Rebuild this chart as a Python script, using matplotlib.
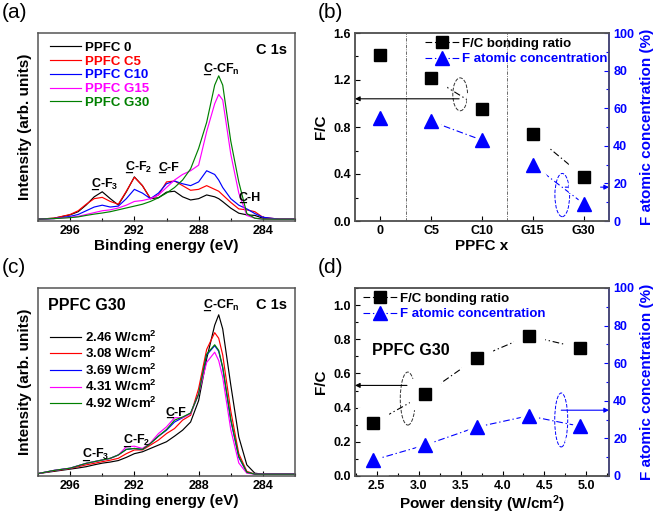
import matplotlib.pyplot as plt
from matplotlib.patches import Ellipse
from matplotlib.lines import Line2D
from matplotlib.ticker import MultipleLocator

plt.rcParams['font.family'] = ['Liberation Sans', 'DejaVu Sans']
plt.rcParams['font.weight'] = 'bold'
plt.rcParams['axes.labelweight'] = 'bold'
plt.rcParams['mathtext.fontset'] = 'custom'
plt.rcParams['mathtext.rm'] = 'Liberation Sans:bold'
plt.rcParams['mathtext.bf'] = 'Liberation Sans:bold'
plt.rcParams['mathtext.it'] = 'Liberation Sans:bold'
plt.rcParams['mathtext.default'] = 'bf'

# ---- (a) C 1s spectra vs. PPFC type ----
energy = [298, 297, 296, 295.5, 295, 294.5, 294, 293.5, 293, 292.5, 292, 291.5, 291, 290.5, 290,
          289.5, 289, 288.5, 288, 287.5, 287, 286.75, 286.5, 286, 285.5, 285, 284.5, 284, 283, 282]
ppfc_0 = [0, 0.5, 2.3, 4, 7.6, 12, 14.7, 11, 7.6, 14.7, 22.7, 18, 11, 11.5, 14.5,
          15, 12, 10.3, 11, 13, 12, 11, 9.4, 5.9, 3.2, 2.3, 2, 0.5, 0, 0]
ppfc_c5 = [0, 0.5, 2.5, 4.5, 8, 11, 11.7, 9.5, 8, 15, 22.5, 18, 11, 13, 20,
           20.5, 18, 15.5, 16, 18, 16, 15, 13, 9, 5.5, 5, 4, 1, 0, 0]
ppfc_c10 = [0, 0.3, 1.5, 2.5, 4.5, 6.5, 7.5, 6.5, 7, 11, 16, 14, 11, 14, 19,
            20.5, 19, 18, 20, 26, 24, 21, 17, 11, 7.5, 5.5, 3, 1, 0, 0]
ppfc_g15 = [0, 0.3, 1, 1.5, 2.5, 3.5, 4.5, 5, 6, 7.5, 9.5, 10, 11, 13, 17,
            21, 24, 26, 29, 47, 62, 67, 64, 35, 14, 2, 0.5, 0, 0, 0]
ppfc_g30 = [0, 0.3, 0.8, 1.2, 2, 2.7, 3.3, 4, 5, 6, 7, 8, 9.5, 11.5, 14,
            17, 21, 27, 38, 52, 72, 77, 72, 42, 20, 3, 0.5, 0, 0, 0]
names_a = ['PPFC 0', 'PPFC C5', 'PPFC C10', 'PPFC G15', 'PPFC G30']

# ---- (c) C 1s spectra of PPFC G30 vs. power density ----
p246 = [0.3, 1.5, 2.7, 3.3, 4, 5, 5.9, 6.5, 7.3, 9, 11, 12, 13.8, 15.6, 17.4,
        20.4, 23.6, 28, 39.5, 62, 80, 85.6, 78, 48, 20, 5, 0.5, 0, 0, 0]
p308 = [0.3, 1.8, 3, 4, 5, 5.8, 6.7, 7.5, 8.5, 11, 13, 13, 15.6, 18.3, 21.8,
        24.5, 29, 31.6, 46, 67, 76, 73, 64, 34, 11, 1.5, 0, 0, 0, 0]
p369 = [0.3, 2, 3.2, 4.5, 5.8, 6.7, 7.6, 8.5, 10.3, 13.3, 13.8, 13.3, 16.5, 20.4, 23.6,
        28, 30.3, 32.8, 43, 64, 69, 66, 57, 29, 9, 1, 0, 0, 0, 0]
p431 = [0.3, 2, 3.2, 4.5, 5.8, 6.7, 7.6, 8.5, 10.3, 14.7, 15, 13.8, 16.8, 21.8, 25.4,
        30.3, 30.3, 32.4, 43, 60, 65.5, 61, 52, 24, 6, 0.5, 0, 0, 0, 0]
p492 = [0.3, 2, 3.2, 4.5, 5.8, 6.7, 7.6, 8.5, 10.3, 13.3, 13.8, 13.3, 16.5, 20.4, 24,
        29, 30.7, 32.8, 43, 64.5, 69.5, 66.5, 57.5, 29.5, 9.5, 1, 0, 0, 0, 0]
names_c = ['2.46 W/cm$^2$', '3.08 W/cm$^2$', '3.69 W/cm$^2$', '4.31 W/cm$^2$', '4.92 W/cm$^2$']

colors = ['black', 'red', 'blue', 'magenta', 'green']

# ---- (b) F/C and F concentration vs. PPFC x ----
categories = ['0', 'C5', 'C10', 'G15', 'G30']
fc_b = [1.41, 1.22, 0.955, 0.737, 0.377]
fconc_b = [55, 53, 43, 30, 9.2]
pairs_b = [(1, 2), (3, 4)]

# ---- (d) F/C and F concentration vs. power density ----
power = [2.46, 3.08, 3.69, 4.31, 4.92]
fc_d = [0.31, 0.48, 0.69, 0.82, 0.75]
fconc_d = [8.5, 16.5, 26, 32, 26.5]

frame = '#555555'
dashdot = (0, (6, 2.5, 1.2, 2.5))


def style(ax):
    for s in ax.spines.values():
        s.set_color(frame)
        s.set_linewidth(1.1)
    ax.tick_params(which='both', direction='in', labelsize=9, width=0.8, pad=3)
    ax.tick_params(which='major', length=3.5)
    ax.tick_params(which='minor', length=2)


def underlined(ax, x, y, txt):
    ax.text(x, y, txt, ha='left', va='baseline', fontsize=9)
    ax.text(x, y, '_', ha='left', va='baseline', fontsize=9)


def spectra(ax, curves, names):
    for ys, c, n in zip(curves, colors, names):
        ax.plot(energy, ys, color=c, lw=0.85, label=n)
    ax.set_xlim(298, 282)
    ax.set_ylim(-1, 100)
    ax.set_yticks([])
    ax.xaxis.set_major_locator(MultipleLocator(4))
    ax.xaxis.set_minor_locator(MultipleLocator(2))
    style(ax)
    ax.set_xlabel('Binding energy (eV)', fontsize=11, labelpad=1)
    ax.set_ylabel('Intensity (arb. units)', fontsize=11, labelpad=4)
    ax.text(0.97, 0.945, 'C 1s', transform=ax.transAxes, ha='right', va='top', fontsize=10.5)


def scatter_pair(ax, x, y, marker, color, ms):
    ax.plot(x, y, marker, color='white', ms=ms + 12, zorder=3)
    ax.plot(x, y, marker, color=color, ms=ms, zorder=4)


def arrow(ax, side, y, x_from, color):
    ax.annotate('', xy=(side, y), xycoords=('axes fraction', 'data'),
                xytext=(x_from, y), textcoords='data',
                arrowprops=dict(arrowstyle='-|>', color=color, lw=0.8, mutation_scale=7,
                                shrinkA=0, shrinkB=0))


fig = plt.figure(figsize=(6.58, 5.14), dpi=100)
W, H = 658, 514
ax_a = fig.add_axes([38 / W, 1 - 221 / H, 257 / W, 188 / H])
ax_b = fig.add_axes([355 / W, 1 - 221 / H, 254 / W, 188 / H])
ax_c = fig.add_axes([38 / W, 1 - 476 / H, 257 / W, 188 / H])
ax_d = fig.add_axes([355 / W, 1 - 476 / H, 254 / W, 188 / H])

# (a)
spectra(ax_a, [ppfc_0, ppfc_c5, ppfc_c10, ppfc_g15, ppfc_g30], names_a)
leg = ax_a.legend(loc='upper left', bbox_to_anchor=(0.045, 0.955), frameon=False, fontsize=9.5,
                  borderpad=0, borderaxespad=0, handlelength=2.4, handletextpad=0.25, labelspacing=0.12)
for t, c in zip(leg.get_texts(), colors):
    t.set_color(c)
underlined(ax_a, 287.75, 78.5, 'C-CF$_n$')
underlined(ax_a, 294.7, 17, 'C-F$_3$')
underlined(ax_a, 292.6, 26, 'C-F$_2$')
underlined(ax_a, 290.5, 26, 'C-F')
underlined(ax_a, 285.5, 9.6, 'C-H')

# (c)
spectra(ax_c, [p246, p308, p369, p431, p492], names_c)
ax_c.legend(loc='upper left', bbox_to_anchor=(0.045, 0.78), frameon=False, fontsize=9.5,
            borderpad=0, borderaxespad=0, handlelength=2.4, handletextpad=0.25, labelspacing=0.1)
ax_c.text(0.039, 0.945, 'PPFC G30', transform=ax_c.transAxes, ha='left', va='top', fontsize=11.5)
underlined(ax_c, 287.75, 89, 'C-CF$_n$')
underlined(ax_c, 290.05, 31.5, 'C-F')
underlined(ax_c, 292.7, 16, 'C-F$_2$')
underlined(ax_c, 295.25, 8.5, 'C-F$_3$')

# (b)
xb = list(range(len(categories)))
ax_b2 = ax_b.twinx()
for i, j in pairs_b:
    ax_b.plot([xb[i], xb[j]], [fc_b[i], fc_b[j]], color='black', lw=0.8, ls=dashdot, zorder=2)
    ax_b2.plot([xb[i], xb[j]], [fconc_b[i], fconc_b[j]], color='blue', lw=0.8, ls=dashdot, zorder=2)
scatter_pair(ax_b, xb, fc_b, 's', 'black', 9)
scatter_pair(ax_b2, xb, fconc_b, '^', 'blue', 10)
for v in (0.5, 2.5):
    ax_b.axvline(v, color='#555555', lw=0.6, ls=(0, (4, 1.5, 1, 1.5)))
ax_b.set_xlim(-0.5, 4.5)
ax_b.set_ylim(0, 1.6)
ax_b.set_xticks(xb)
ax_b.set_xticklabels(categories)
ax_b.yaxis.set_major_locator(MultipleLocator(0.4))
ax_b.yaxis.set_minor_locator(MultipleLocator(0.2))
ax_b2.set_ylim(0, 100)
ax_b2.yaxis.set_major_locator(MultipleLocator(20))
ax_b2.yaxis.set_minor_locator(MultipleLocator(10))
ax_b.add_patch(Ellipse((1.57, 1.078), 0.29, 0.28, fill=False, ls='--', lw=0.7, ec='#333333'))
ax_b2.add_patch(Ellipse((3.58, 13.8), 0.29, 23, fill=False, ls='--', lw=0.7, ec='blue'))
arrow(ax_b, 0, 1.04, 1.55, 'black')
arrow(ax_b2, 1, 18, 3.64, 'blue')
ax_b.set_xlabel('PPFC x', fontsize=11, labelpad=1)
ax_b.set_ylabel('F/C', fontsize=11, labelpad=4)

# (d)
ax_d2 = ax_d.twinx()
ax_d.plot(power, fc_d, color='black', lw=0.8, ls=dashdot, zorder=2)
ax_d2.plot(power, fconc_d, color='blue', lw=0.8, ls=dashdot, zorder=2)
scatter_pair(ax_d, power, fc_d, 's', 'black', 9)
scatter_pair(ax_d2, power, fconc_d, '^', 'blue', 10)
ax_d.set_xlim(2.24, 5.27)
ax_d.set_ylim(0, 1.1)
ax_d.xaxis.set_major_locator(MultipleLocator(0.5))
ax_d.xaxis.set_minor_locator(MultipleLocator(0.25))
ax_d.yaxis.set_major_locator(MultipleLocator(0.2))
ax_d.yaxis.set_minor_locator(MultipleLocator(0.1))
ax_d2.set_ylim(0, 100)
ax_d2.yaxis.set_major_locator(MultipleLocator(20))
ax_d2.yaxis.set_minor_locator(MultipleLocator(10))
ax_d.add_patch(Ellipse((2.87, 0.453), 0.18, 0.31, fill=False, ls='--', lw=0.7, ec='#333333'))
ax_d2.add_patch(Ellipse((4.70, 29.8), 0.155, 28.7, fill=False, ls='--', lw=0.7, ec='blue'))
arrow(ax_d, 0, 0.53, 2.86, 'black')
arrow(ax_d2, 1, 35, 4.70, 'blue')
ax_d.text(0.067, 0.71, 'PPFC G30', transform=ax_d.transAxes, ha='left', va='top', fontsize=11.5)
ax_d.set_xlabel('Power density (W/cm$^2$)', fontsize=11, labelpad=1)
ax_d.set_ylabel('F/C', fontsize=11, labelpad=4)

for ax, ax2 in ((ax_b, ax_b2), (ax_d, ax_d2)):
    style(ax)
    style(ax2)
    ax2.spines['right'].set_color('blue')
    ax2.tick_params(axis='y', which='both', colors='blue', labelcolor='blue')
    ax2.set_ylabel('F atomic concentration (%)', fontsize=11, color='blue', labelpad=4)
    ax.set_zorder(ax2.get_zorder() + 1)
    ax.patch.set_visible(False)

h = [Line2D([], [], color='black', ls=dashdot, lw=0.8, marker='s', ms=9),
     Line2D([], [], color='blue', ls=dashdot, lw=0.8, marker='^', ms=10)]
lb = ax_b.legend(h, ['F/C bonding ratio', 'F atomic concentration'], loc='upper right',
                 bbox_to_anchor=(0.995, 0.975), frameon=False, fontsize=9.5, borderpad=0,
                 borderaxespad=0, handlelength=2.6, handletextpad=0.2, labelspacing=0.25)
lb.get_texts()[1].set_color('blue')
ld = ax_d.legend(h, ['F/C bonding ratio', 'F atomic concentration'], loc='upper left',
                 bbox_to_anchor=(0.03, 0.975), frameon=False, fontsize=9.5, borderpad=0,
                 borderaxespad=0, handlelength=2.6, handletextpad=0.2, labelspacing=0.25)
ld.get_texts()[1].set_color('blue')

for lab, x, y in (('(a)', 2, 3), ('(b)', 318, 3), ('(c)', 2, 258), ('(d)', 318, 258)):
    fig.text(x / W, 1 - y / H, lab, fontsize=15, fontweight='normal', va='top', ha='left')

fig.savefig('out.png', dpi=100)
